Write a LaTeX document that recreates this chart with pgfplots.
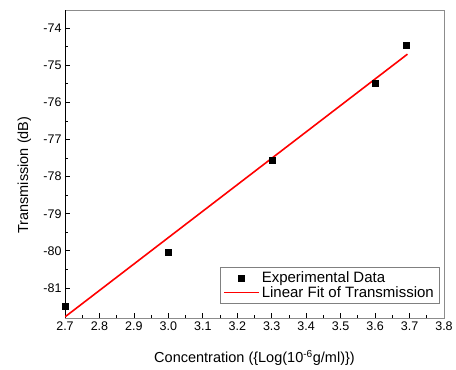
\documentclass[border=0pt]{standalone}
\usepackage{fontspec}
\setmainfont{Liberation Sans}
\usepackage{pgfplots}
\pgfplotsset{compat=1.18}
\pgfplotsset{
  marklegend/.style={legend image code/.code={\draw[##1, mark repeat=2, mark phase=2] plot coordinates {(0bp,0bp) (17.5bp,0bp) (35bp,0bp)};}},
  linelegend/.style={legend image code/.code={\draw[##1] (0bp,0bp) -- (35bp,0bp);}},
}
\begin{document}
\begin{tikzpicture}
\path[use as bounding box] (0,0) rectangle (456bp,370bp);
\begin{axis}[
  at={(65bp,52bp)}, anchor=south west,
  scale only axis, width=379bp, height=308bp,
  xmin=2.7, xmax=3.8, ymin=-81.81, ymax=-73.51,
  xtick={2.7,2.8,2.9,3.0,3.1,3.2,3.3,3.4,3.5,3.6,3.7,3.8},
  ytick={-81,-80,-79,-78,-77,-76,-75,-74},
  minor tick num=1,
  tick align=inside,
  major tick length=5bp, minor tick length=3bp,
  xtick pos=bottom, ytick pos=left,
  axis line style={black!45, line width=0.6bp},
  tick style={black, line width=0.8bp},
  /pgf/number format/assume math mode=true,
  xticklabel={\pgfmathprintnumber[fixed,fixed zerofill,precision=1]{\tick}},
  yticklabel={\pgfmathprintnumber[fixed,precision=0]{\tick}},
  ticklabel style={font=\fontsize{12.5bp}{14bp}\selectfont},
  label style={font=\fontsize{14.5bp}{17bp}\selectfont},
  xlabel={Concentration (\{Log(10\textsuperscript{-6}g/ml)\})},
  ylabel={Transmission (dB)},
  xlabel style={at={(axis description cs:0.5,-0.1299)}, anchor=center},
  ylabel style={at={(axis description cs:-0.1069,0.464)}, anchor=center},
  legend style={at={(0.9868,0.0487)}, anchor=south east, draw=black!50,
    font=\fontsize{15bp}{17bp}\selectfont, row sep=-1.5bp,
    inner xsep=3bp, inner ysep=2bp},
  legend cell align=left,
]
\draw[black, line width=0.9bp] (rel axis cs:0,1) -- (rel axis cs:0,0) -- (rel axis cs:1,0);
\addplot[only marks, mark=square*, mark size=3bp, black, marklegend] coordinates {
  (2.7,-81.48) (3.0,-80.03) (3.3,-77.55) (3.6,-75.48) (3.69,-74.47)
};
\addlegendentry{Experimental Data}
\addplot[red, line width=1.6bp, linelegend] coordinates {(2.7,-81.78) (3.694,-74.70)};
\addlegendentry{Linear Fit of Transmission}
\end{axis}
\end{tikzpicture}
\end{document}
